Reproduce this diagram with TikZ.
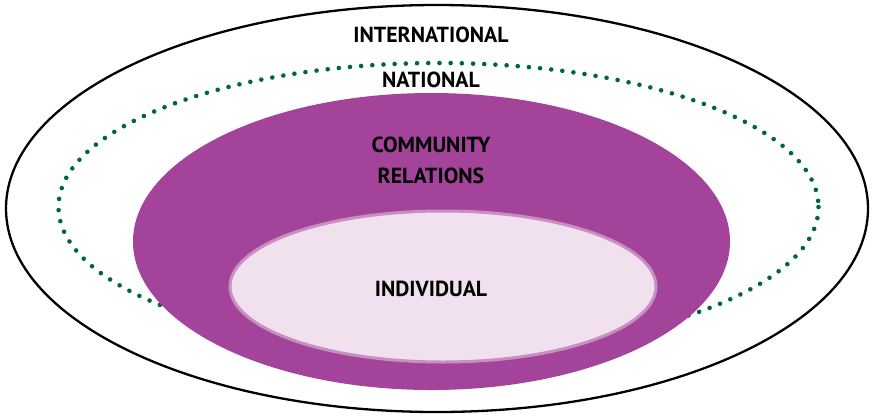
\documentclass[tikz,border=0pt]{standalone}
\usepackage{fontspec}
\setmainfont{PT Sans}
\usepackage{tikz}
\definecolor{plum}{HTML}{A3449A}
\definecolor{lightplum}{HTML}{F1E1EF}
\definecolor{rimplum}{HTML}{C98EC2}
\definecolor{dotgreen}{HTML}{00663C}

\begin{document}
\begin{tikzpicture}[x=1pt,y=-1pt,
  label/.style={font=\bfseries\fontsize{21.8}{26}\selectfont, inner sep=0pt},
  dots/.style={draw=dotgreen, line width=4.6pt, line cap=round, dash pattern=on 0pt off 11.2pt}]
\useasboundingbox (0,0) rectangle (872,416);
\draw[line width=2.3pt] (437,208.5) ellipse [x radius=431, y radius=203.5];
\draw[dots] (438.5,207) ellipse [x radius=380, y radius=144];
\fill[plum] (431.5,241.5) ellipse [x radius=298.5, y radius=148.5];
\draw[draw=rimplum, fill=lightplum, line width=3pt] (443,286.5) ellipse [x radius=213, y radius=75.5];

\node[label] (inter) at (431,35) {INTERNATIONAL};
\node[label] (nat) at (431,80) {NATIONAL};
\node[label] (comm) at (431,145) {COMMUNITY};
\node[label] (rel) at (431,176) {RELATIONS};
\node[label] (indiv) at (431,289) {INDIVIDUAL};
\end{tikzpicture}
\end{document}
